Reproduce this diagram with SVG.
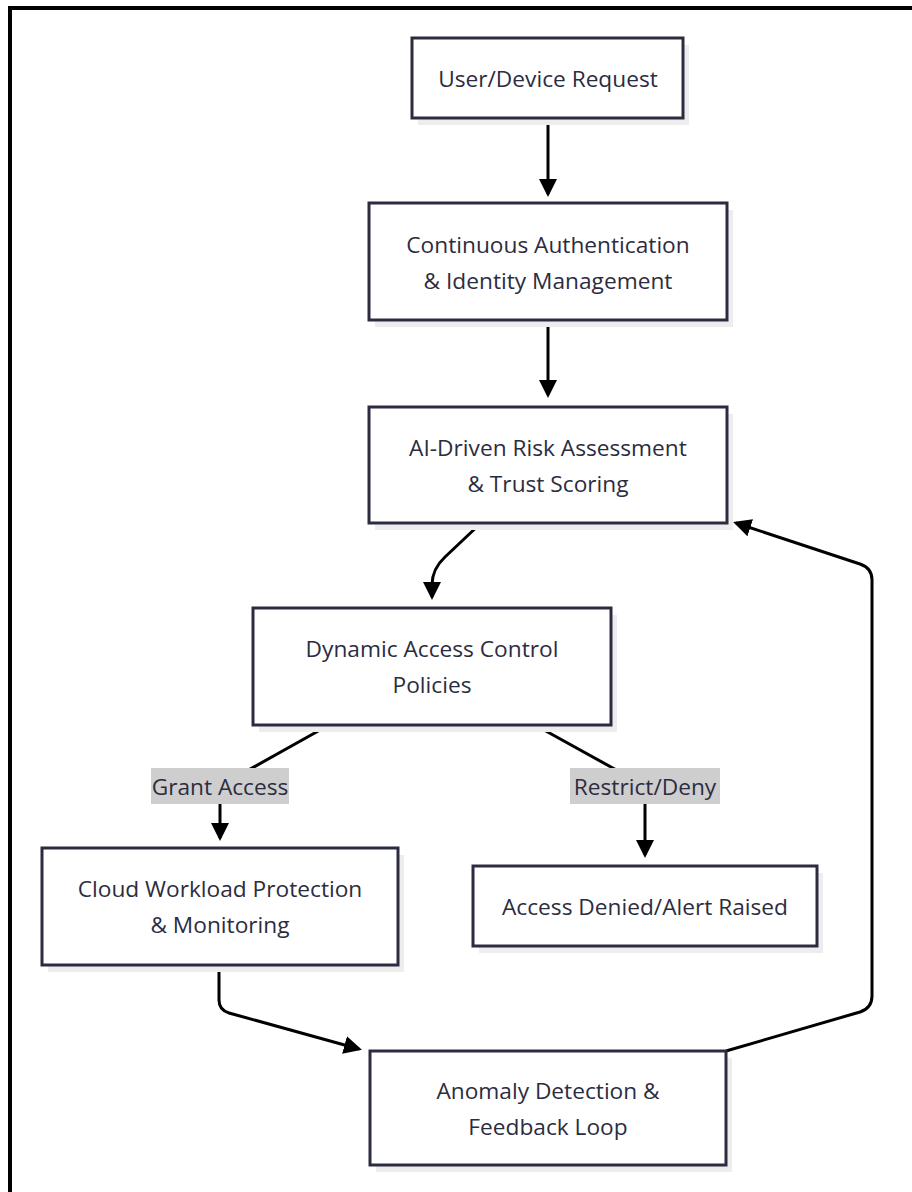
<svg xmlns="http://www.w3.org/2000/svg" width="912" height="1192" viewBox="0 0 912 1192">
  <style>
    .frame { fill: none; stroke: #000; stroke-width: 4; }
    .shadow { fill: #ededed; stroke: none; }
    .box { fill: #fff; stroke: #2c2c40; stroke-width: 3; }
    .txt { font-family: "Open Sans", "Liberation Sans", sans-serif; font-size: 22.7px; fill: #2c2c40; text-anchor: middle; dominant-baseline: central; }
    .edge { fill: none; stroke: #000; stroke-width: 3; marker-end: url(#arrow); }
    .lbl-bg { fill: #cecece; }
  </style>
  <defs>
    <marker id="arrow" markerUnits="userSpaceOnUse" markerWidth="18" markerHeight="18" refX="15" refY="9" orient="auto">
      <path d="M0,0 L18,9 L0,18 z" fill="#000"/>
    </marker>
  </defs>

  <rect width="912" height="1192" fill="#fff"/>
  <path class="frame" d="M10,1192 V8 H912"/>

  <!-- connectors -->
  <g id="edges">
    <path class="edge" d="M548,118 V194"/>
    <path class="edge" d="M548,320 V395"/>
    <path class="edge" d="M481,523 L445,557 Q432,569 432,585 V597"/>
    <path class="edge" d="M329,725 L236,777 Q220,786 220,800 V838"/>
    <path class="edge" d="M535,725 L629,777 Q645,786 645,800 V855"/>
    <path class="edge" d="M219,965 V1000 Q219,1010 229,1013 L359,1049"/>
    <path class="edge" d="M726,1051 L860,1012 Q872,1008 872,996 V580 Q872,568 860,564 L736,523"/>
  </g>

  <!-- edge labels -->
  <g id="label-grant">
    <rect class="lbl-bg" x="151" y="768" width="138" height="36"/>
    <text class="txt" x="220" y="786">Grant Access</text>
  </g>
  <g id="label-restrict">
    <rect class="lbl-bg" x="570" y="768" width="150" height="36"/>
    <text class="txt" x="645" y="786">Restrict/Deny</text>
  </g>

  <!-- nodes -->
  <g id="node-request">
    <rect class="shadow" x="418" y="45" width="271" height="80"/>
    <rect class="box" x="412" y="38" width="271" height="80"/>
    <text class="txt" x="548" y="78">User/Device Request</text>
  </g>
  <g id="node-auth">
    <rect class="shadow" x="375" y="210" width="358" height="117"/>
    <rect class="box" x="369" y="203" width="358" height="117"/>
    <text class="txt" x="548" y="244">Continuous Authentication</text>
    <text class="txt" x="548" y="280">&amp; Identity Management</text>
  </g>
  <g id="node-risk">
    <rect class="shadow" x="375" y="414" width="358" height="116"/>
    <rect class="box" x="369" y="407" width="358" height="116"/>
    <text class="txt" x="548" y="447">AI-Driven Risk Assessment</text>
    <text class="txt" x="548" y="483">&amp; Trust Scoring</text>
  </g>
  <g id="node-policy">
    <rect class="shadow" x="259" y="615" width="358" height="117"/>
    <rect class="box" x="253" y="608" width="358" height="117"/>
    <text class="txt" x="432" y="648">Dynamic Access Control</text>
    <text class="txt" x="432" y="684">Policies</text>
  </g>
  <g id="node-workload">
    <rect class="shadow" x="48" y="855" width="356" height="117"/>
    <rect class="box" x="42" y="848" width="356" height="117"/>
    <text class="txt" x="220" y="888">Cloud Workload Protection</text>
    <text class="txt" x="220" y="924">&amp; Monitoring</text>
  </g>
  <g id="node-denied">
    <rect class="shadow" x="479" y="873" width="344" height="80"/>
    <rect class="box" x="473" y="866" width="344" height="80"/>
    <text class="txt" x="645" y="906">Access Denied/Alert Raised</text>
  </g>
  <g id="node-anomaly">
    <rect class="shadow" x="376" y="1058" width="356" height="114"/>
    <rect class="box" x="370" y="1051" width="356" height="114"/>
    <text class="txt" x="548" y="1090">Anomaly Detection &amp;</text>
    <text class="txt" x="548" y="1126">Feedback Loop</text>
  </g>
</svg>
